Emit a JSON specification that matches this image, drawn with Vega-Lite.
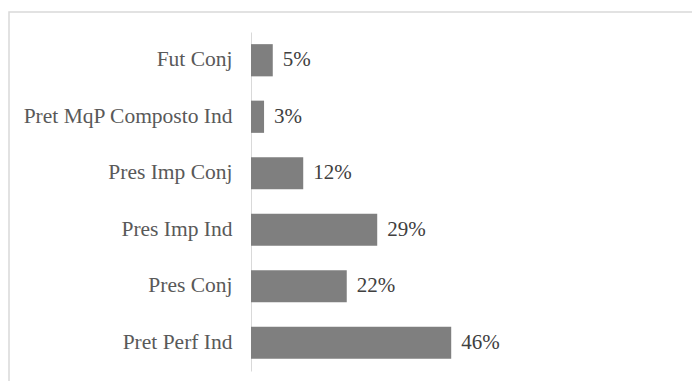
{
  "$schema": "https://vega.github.io/schema/vega-lite/v6.json",
  "autosize": "none",
  "padding": {"left": 9, "top": 12, "right": -13, "bottom": -12},
  "width": 696,
  "height": 381,
  "background": "white",
  "config": {
    "view": {"stroke": "#d9d9d9", "strokeWidth": 1.5},
    "font": "'Times New Roman', 'Liberation Serif', serif"
  },
  "data": {
    "values": [
      {"category": "Fut Conj", "value": 0.05, "label": "5%"},
      {"category": "Pret MqP Composto Ind", "value": 0.03, "label": "3%"},
      {"category": "Pres Imp Conj", "value": 0.12, "label": "12%"},
      {"category": "Pres Imp Ind", "value": 0.29, "label": "29%"},
      {"category": "Pres Conj", "value": 0.22, "label": "22%"},
      {"category": "Pret Perf Ind", "value": 0.46, "label": "46%"}
    ]
  },
  "encoding": {
    "y": {
      "field": "category",
      "type": "nominal",
      "sort": null,
      "scale": {"range": [20, 359], "paddingInner": 0.43, "paddingOuter": 0.215},
      "axis": {
        "title": null,
        "offset": -242,
        "ticks": false,
        "domainColor": "#d9d9d9",
        "domainWidth": 1,
        "labelFont": "'Times New Roman', 'Liberation Serif', serif",
        "labelFontSize": 21.5,
        "labelColor": "#595959",
        "labelPadding": 19,
        "labelLimit": 400
      }
    },
    "x": {
      "field": "value",
      "type": "quantitative",
      "scale": {"domain": [0, 1.05], "range": [242, 699], "nice": false, "zero": true},
      "axis": null
    }
  },
  "layer": [
    {"mark": {"type": "bar", "color": "#7f7f7f"}},
    {
      "mark": {"type": "text", "align": "left", "dx": 10, "fontSize": 21, "font": "'Times New Roman', 'Liberation Serif', serif", "color": "#404040"},
      "encoding": {"text": {"field": "label"}}
    }
  ]
}
